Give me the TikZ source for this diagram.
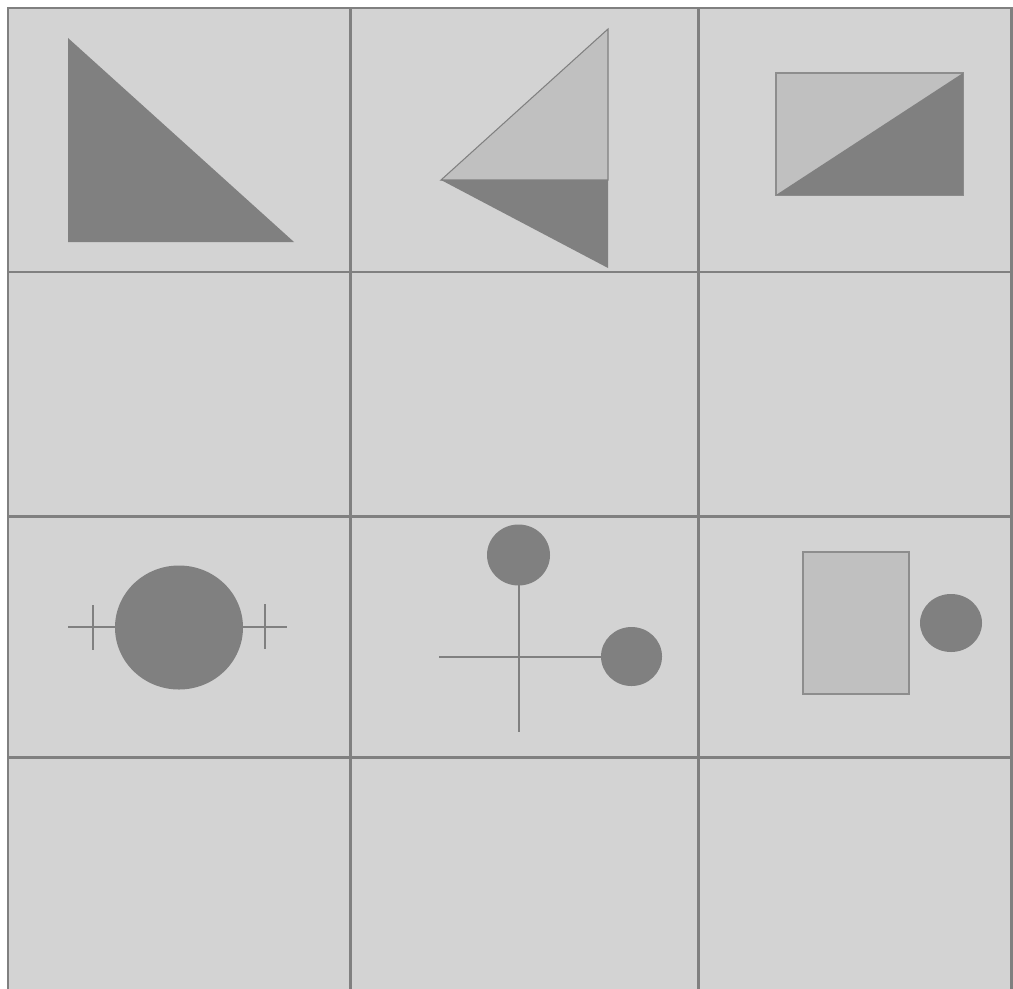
\documentclass[tikz,border=0pt]{standalone}
\definecolor{cellgray}{HTML}{D3D3D3}
\definecolor{lightshape}{HTML}{C0C0C0}
\definecolor{darkshape}{HTML}{808080}
\definecolor{gridgray}{HTML}{808080}
\begin{document}
\begin{tikzpicture}[x=0.01cm,y=-0.01cm,line join=miter]
  \useasboundingbox (0,0) rectangle (1013,988);
  \clip (0,0) rectangle (1013,988);
  \fill[cellgray] (8,8) rectangle (1011,995);
  \draw[gridgray,line width=0.85pt] (8,8) rectangle (1011,995);
  \draw[gridgray,line width=0.85pt] (350,8) -- (350,995) (698,8) -- (698,995);
  \draw[gridgray,line width=0.85pt] (8,272) -- (1011,272) (8,516) -- (1011,516) (8,757) -- (1011,757);
  % top row
  \fill[darkshape] (68,38) -- (68,242) -- (294,242) -- cycle;
  \filldraw[fill=lightshape,draw=darkshape,line width=0.3pt] (441,180) -- (608,29) -- (608,180) -- cycle;
  \fill[darkshape] (441,180) -- (608,180) -- (608,268) -- cycle;
  \filldraw[fill=lightshape,draw=darkshape!80!lightshape,line width=0.4pt] (776,73) rectangle (963,195);
  \fill[darkshape] (776,195) -- (963,73) -- (963,195) -- cycle;
  % third row
  \draw[darkshape,line width=0.7pt] (68,627) -- (287,627);
  \draw[darkshape,line width=0.7pt] (93,605) -- (93,650) (265,604) -- (265,649);
  \fill[darkshape] (179,627.5) ellipse [x radius=64,y radius=62];
  \draw[darkshape,line width=0.7pt] (519,555) -- (519,732);
  \draw[darkshape,line width=0.7pt] (439,657) -- (631,657);
  \fill[darkshape] (518.5,555) ellipse [x radius=31.5,y radius=30.5];
  \fill[darkshape] (631.5,656.5) ellipse [x radius=30.5,y radius=29.5];
  \filldraw[fill=lightshape,draw=darkshape!80!lightshape,line width=0.4pt] (803,552) rectangle (909,694);
  \fill[darkshape] (951,623) ellipse [x radius=31,y radius=29];
\end{tikzpicture}
\end{document}
